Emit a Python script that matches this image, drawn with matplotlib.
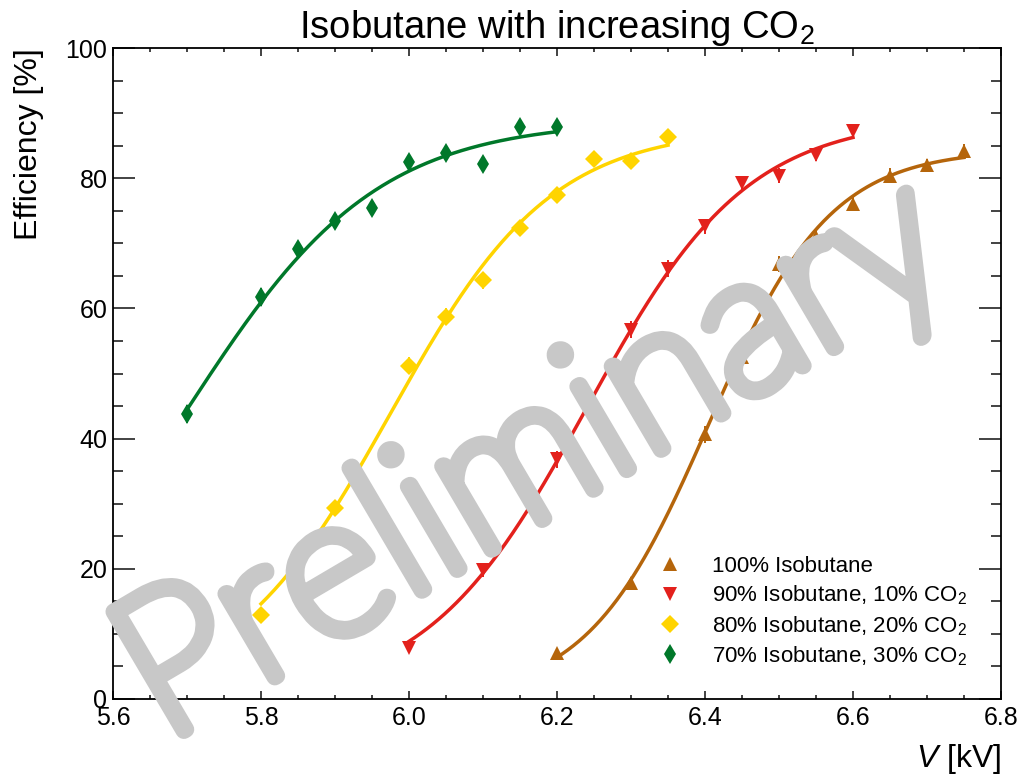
import numpy as np
import matplotlib
matplotlib.use("Agg")
import matplotlib.pyplot as plt
import matplotlib.patheffects as path_effects
from matplotlib.lines import Line2D
from matplotlib.ticker import MultipleLocator, FormatStrFormatter

plt.rcParams['font.family'] = ['Liberation Sans', 'DejaVu Sans']
plt.rcParams['mathtext.fontset'] = 'custom'
plt.rcParams['mathtext.rm'] = 'Liberation Sans'
plt.rcParams['mathtext.it'] = 'Liberation Sans:italic'

# ---- data ----
v_iso100 = [6.20, 6.30, 6.40, 6.45, 6.50, 6.55, 6.60, 6.65, 6.70, 6.75]
eff_iso100 = [7.1, 17.8, 40.7, 52.6, 66.8, 71.0, 76.1, 80.4, 82.0, 84.2]
err_iso100 = [0.8, 1.0, 1.3, 1.4, 1.2, 1.2, 1.1, 1.1, 1.0, 1.1]

v_iso90 = [6.00, 6.10, 6.20, 6.30, 6.35, 6.40, 6.45, 6.50, 6.55, 6.60]
eff_iso90 = [7.9, 19.8, 36.8, 56.7, 66.1, 72.6, 79.2, 80.4, 83.6, 87.2]
err_iso90 = [0.9, 1.1, 1.3, 1.3, 1.3, 1.2, 1.1, 1.2, 1.0, 1.0]

v_iso80 = [5.80, 5.90, 6.00, 6.05, 6.10, 6.15, 6.20, 6.25, 6.30, 6.35]
eff_iso80 = [12.9, 29.3, 51.2, 58.7, 64.3, 72.4, 77.4, 82.9, 82.6, 86.3]
err_iso80 = [1.0, 1.2, 1.3, 1.3, 1.3, 1.2, 1.1, 1.0, 1.0, 0.9]

v_iso70 = [5.70, 5.80, 5.85, 5.90, 5.95, 6.00, 6.05, 6.10, 6.15, 6.20]
eff_iso70 = [43.8, 61.8, 69.1, 73.4, 75.4, 82.5, 83.8, 82.2, 87.9, 87.8]
err_iso70 = [1.35, 1.4, 1.3, 1.25, 1.2, 1.1, 1.1, 1.1, 1.0, 1.0]

labels = ["100% Isobutane",
          "90% Isobutane, 10% CO$_2$",
          "80% Isobutane, 20% CO$_2$",
          "70% Isobutane, 30% CO$_2$"]

series = [
    (v_iso100, eff_iso100, err_iso100, '#b5650b', '^', 10.5),
    (v_iso90, eff_iso90, err_iso90, '#e3211c', 'v', 10.5),
    (v_iso80, eff_iso80, err_iso80, '#ffd400', 'D', 9.5),
    (v_iso70, eff_iso70, err_iso70, '#00782a', 'd', 10.5),
]


def fit_sigmoid(v, e):
    """least squares logistic fit: A / (1 + exp(-k (V - V50))), grid search"""
    v = np.asarray(v)
    e = np.asarray(e)
    best = None
    for v50 in np.linspace(5.4, 6.8, 281):
        for k in np.linspace(3, 40, 186):
            f = 1.0 / (1.0 + np.exp(-k * (v - v50)))
            a = np.sum(e * f) / np.sum(f * f)
            chi = np.sum((e - a * f) ** 2)
            if best is None or chi < best[0]:
                best = (chi, a, k, v50)
    return best[1:]


fig = plt.figure(figsize=(10.22, 7.76), dpi=100)
ax = fig.add_axes([113 / 1022, 77 / 776, 888 / 1022, 651 / 776])

handles = []
for v, e, err, col, mk, ms in series:
    a, k, v50 = fit_sigmoid(v, e)
    vv = np.linspace(v[0], v[-1], 300)
    ax.plot(vv, a / (1 + np.exp(-k * (vv - v50))), color=col, lw=2.5, zorder=2)
    ax.errorbar(v, e, yerr=err, fmt=mk, color=col, ms=ms, mew=0,
                elinewidth=1.4, capsize=5.5, capthick=1.4, zorder=3)
    handles.append(Line2D([], [], ls='none', marker=mk, color=col, ms=ms, mew=0))

ax.set_xlim(5.6, 6.8)
ax.set_ylim(0, 100)
ax.xaxis.set_major_locator(MultipleLocator(0.2))
ax.xaxis.set_minor_locator(MultipleLocator(0.05))
ax.xaxis.set_major_formatter(FormatStrFormatter('%.1f'))
ax.yaxis.set_major_locator(MultipleLocator(20))
ax.yaxis.set_minor_locator(MultipleLocator(5))
ax.tick_params(which='both', direction='in', top=True, right=True,
               labelsize=18, width=1.2, color='#222222')
ax.tick_params(axis='x', which='major', length=6, pad=5)
ax.tick_params(axis='x', which='minor', length=3)
ax.tick_params(axis='y', which='major', length=16, pad=4)
ax.tick_params(axis='y', which='minor', length=7.5)
for sp in ax.spines.values():
    sp.set_linewidth(1.3)

ax.set_title("Isobutane with increasing CO$_2$", fontsize=27.5, pad=5)
ax.set_ylabel("Efficiency [%]", fontsize=23)
ax.yaxis.set_label_coords(-0.078, 1.0)
ax.yaxis.label.set_ha('right')
ax.set_xlabel("$\\mathit{V}$ [kV]", fontsize=23)
ax.xaxis.set_label_coords(1.0, -0.104)
ax.xaxis.label.set_ha('right')
ax.xaxis.label.set_va('baseline')

ax.legend(handles, labels, loc='upper left', bbox_to_anchor=(659 / 1022, 1 - 556 / 776),
          bbox_transform=fig.transFigure, frameon=False, fontsize=16,
          handlelength=1.0, handletextpad=1.4, labelspacing=0.3,
          borderpad=0, borderaxespad=0)

wm = fig.text(535 / 1022, 1 - 462 / 776, "Preliminary", fontsize=142,
              color='#c8c8c8', rotation=30.5, rotation_mode='anchor',
              ha='center', va='center', zorder=10, family='Lato', weight='light')
wm.set_path_effects([path_effects.Stroke(linewidth=12, foreground='#c8c8c8',
                                         capstyle='round', joinstyle='round'),
                     path_effects.Normal()])

fig.savefig("out.png", dpi=100)
